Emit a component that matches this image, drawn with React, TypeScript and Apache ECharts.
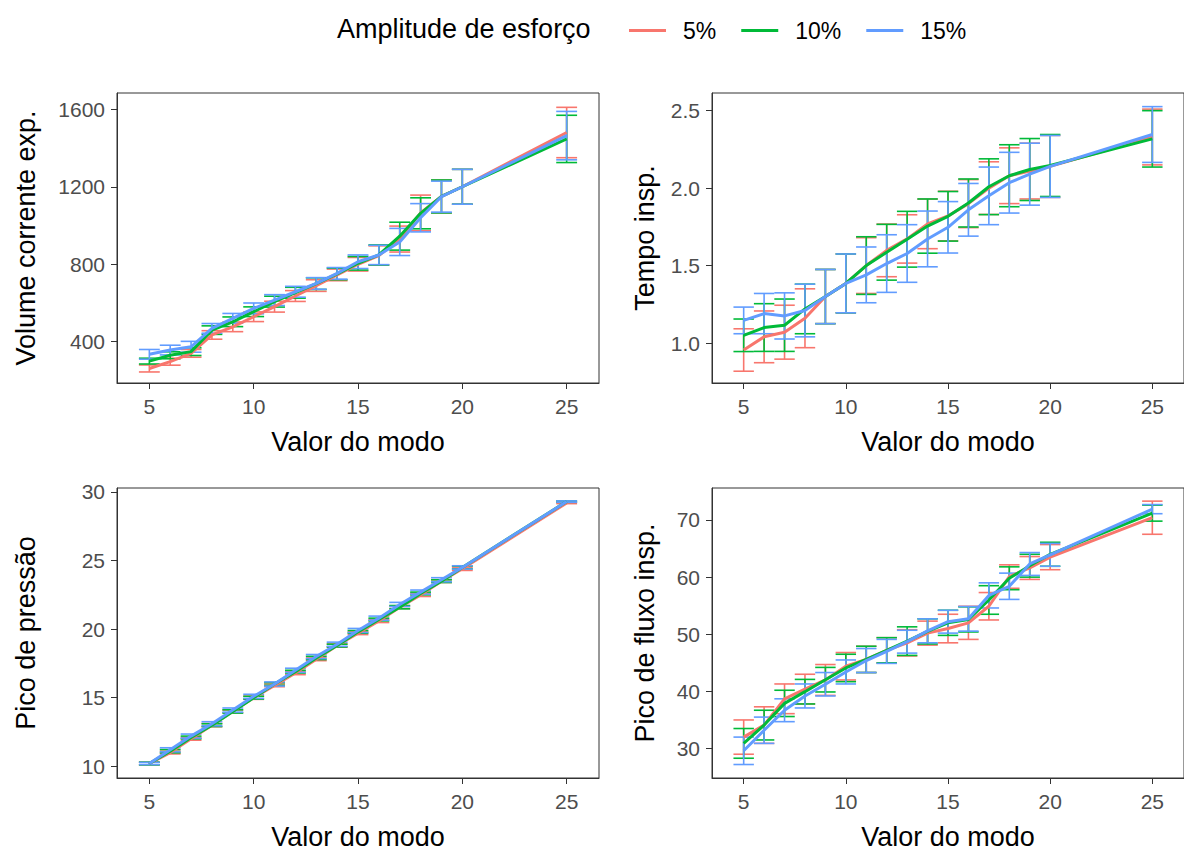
import React, { useEffect, useRef } from "react";
import * as echarts from "echarts";

const modes = [5, 6, 7, 8, 9, 10, 11, 12, 13, 14, 15, 16, 17, 18, 19, 20, 25];
const groups = ["5%", "10%", "15%"];
const colors = ["#F8766D", "#00BA38", "#619CFF"];
const xTicks = [5, 10, 15, 20, 25];

// Volume corrente exp.
const volMean5 = [262, 297, 340, 435, 477, 529, 581, 636, 690, 745, 800, 845, 930, 1065, 1150, 1200, 1480];
const volMean10 = [300, 330, 349, 460, 503, 555, 607, 653, 700, 750, 805, 848, 945, 1063, 1150, 1200, 1447];
const volMean15 = [335, 357, 374, 469, 521, 572, 615, 658, 701, 753, 813, 848, 915, 1040, 1149, 1200, 1464];
const volErr5 = [18, 18, 20, 22, 25, 25, 28, 28, 30, 30, 35, 50, 67, 92, 85, 90, 130];
const volErr10 = [15, 18, 20, 22, 25, 25, 28, 28, 30, 30, 35, 52, 72, 80, 85, 90, 122];
const volErr15 = [25, 25, 28, 25, 25, 28, 28, 28, 30, 30, 35, 50, 70, 73, 80, 90, 125];
const volTicks = [400, 800, 1200, 1600];

// Tempo insp.
const tempoMean5 = [0.955, 1.04, 1.07, 1.16, 1.3, 1.385, 1.5, 1.598, 1.672, 1.769, 1.82, 1.9, 2.0, 2.08, 2.11, 2.14, 2.33];
const tempoMean10 = [1.05, 1.1, 1.115, 1.22, 1.3, 1.385, 1.5, 1.586, 1.67, 1.755, 1.818, 1.904, 2.009, 2.08, 2.12, 2.146, 2.318];
const tempoMean15 = [1.146, 1.19, 1.175, 1.21, 1.3, 1.385, 1.44, 1.513, 1.578, 1.672, 1.747, 1.86, 1.95, 2.035, 2.09, 2.14, 2.346];
const tempoErr5 = [0.137, 0.167, 0.174, 0.19, 0.175, 0.19, 0.18, 0.17, 0.156, 0.16, 0.16, 0.155, 0.17, 0.18, 0.18, 0.2, 0.18];
const tempoErr10 = [0.105, 0.154, 0.169, 0.16, 0.175, 0.19, 0.186, 0.18, 0.18, 0.175, 0.16, 0.155, 0.18, 0.2, 0.2, 0.2, 0.182];
const tempoErr15 = [0.086, 0.13, 0.149, 0.17, 0.175, 0.19, 0.18, 0.186, 0.186, 0.18, 0.166, 0.17, 0.186, 0.196, 0.2, 0.2, 0.18];
const tempoTicks = [1.0, 1.5, 2.0, 2.5];

// Pico de pressão
const presMean5 = [10.2, 11.0, 12.0, 13.0, 14.0, 15.0, 15.9, 16.8, 17.8, 18.8, 19.7, 20.6, 21.6, 22.5, 23.5, 24.4, 29.2];
const presMean10 = [10.2, 11.1, 12.1, 13.0, 14.0, 15.0, 16.0, 16.9, 17.9, 18.8, 19.8, 20.7, 21.6, 22.6, 23.5, 24.5, 29.3];
const presMean15 = [10.2, 11.2, 12.2, 13.1, 14.1, 15.1, 16.0, 17.0, 18.0, 18.9, 19.9, 20.8, 21.8, 22.7, 23.6, 24.5, 29.3];
const presErr5 = [0.1, 0.1, 0.1, 0.12, 0.1, 0.12, 0.1, 0.12, 0.1, 0.12, 0.1, 0.12, 0.1, 0.12, 0.1, 0.12, 0.05];
const presErr10 = [0.1, 0.12, 0.1, 0.1, 0.12, 0.1, 0.1, 0.1, 0.12, 0.1, 0.1, 0.1, 0.12, 0.1, 0.1, 0.1, 0.05];
const presErr15 = [0.08, 0.15, 0.15, 0.15, 0.15, 0.15, 0.15, 0.15, 0.15, 0.15, 0.15, 0.15, 0.15, 0.15, 0.15, 0.12, 0.05];
const presTicks = [10, 15, 20, 25, 30];

// Pico de fluxo insp.
const fluxMean5 = [32.0, 34.1, 38.7, 40.4, 42.0, 44.4, 45.6, 47.2, 48.5, 50.2, 51.0, 52.0, 54.9, 60.1, 61.6, 63.5, 70.4];
const fluxMean10 = [30.9, 34.1, 37.9, 39.95, 42.05, 44.1, 45.6, 47.2, 48.8, 50.5, 52.0, 52.6, 56.0, 59.8, 62.0, 64.0, 71.2];
const fluxMean15 = [29.6, 33.2, 36.7, 39.2, 41.25, 43.4, 45.4, 47.0, 48.7, 50.6, 52.2, 52.7, 56.8, 58.4, 62.3, 63.9, 71.9];
const fluxErr5 = [3.0, 3.2, 2.6, 2.6, 2.7, 2.4, 2.3, 2.2, 2.3, 2.1, 2.5, 2.9, 2.4, 2.05, 2.0, 2.2, 2.9];
const fluxErr10 = [2.6, 2.6, 2.3, 2.15, 2.15, 2.4, 2.3, 2.2, 2.5, 2.2, 2.2, 2.2, 2.5, 2.0, 2.0, 2.1, 1.4];
const fluxErr15 = [2.4, 2.3, 2.0, 2.1, 2.05, 2.1, 2.1, 2.1, 2.0, 2.1, 2.0, 2.15, 2.2, 2.3, 2.0, 2.0, 0.8];
const fluxTicks = [30, 40, 50, 60, 70];

const FONT = "'Liberation Sans', Arial, sans-serif";

const panels = [
  { yName: "Volume corrente exp.", means: [volMean5, volMean10, volMean15], errs: [volErr5, volErr10, volErr15], min: 187, max: 1684, ticks: volTicks, dec: 0, left: 117, top: 93, gap: 78 },
  { yName: "Tempo insp.", means: [tempoMean5, tempoMean10, tempoMean15], errs: [tempoErr5, tempoErr10, tempoErr15], min: 0.742, max: 2.614, ticks: tempoTicks, dec: 1, left: 712, top: 93, gap: 54 },
  { yName: "Pico de pressão", means: [presMean5, presMean10, presMean15], errs: [presErr5, presErr10, presErr15], min: 9.145, max: 30.29, ticks: presTicks, dec: 0, left: 117, top: 488, gap: 78 },
  { yName: "Pico de fluxo insp.", means: [fluxMean5, fluxMean10, fluxMean15], errs: [fluxErr5, fluxErr10, fluxErr15], min: 24.84, max: 75.6, ticks: fluxTicks, dec: 0, left: 712, top: 488, gap: 54 },
];

export default function App() {
  const ref = useRef<HTMLDivElement>(null);
  useEffect(() => {
    if (!ref.current) return;
    const chart = echarts.init(ref.current, null, { renderer: "svg" });
    const grids: any[] = [];
    const xAxes: any[] = [];
    const yAxes: any[] = [];
    const series: any[] = [];
    panels.forEach((p, pi) => {
      grids.push({ left: p.left, top: p.top, width: 482, height: 290, show: true, borderColor: "#333", borderWidth: 1, backgroundColor: "#fff" });
      xAxes.push({
        type: "value", gridIndex: pi, min: 3.45, max: 26.55,
        axisLine: { show: true, lineStyle: { color: "#333", width: 1 } },
        axisTick: { show: true, length: 6, customValues: xTicks, lineStyle: { color: "#333", width: 1 } },
        axisLabel: { customValues: xTicks, fontSize: 21, color: "#4D4D4D", margin: 13, fontFamily: FONT },
        splitLine: { show: false },
        name: "Valor do modo", nameLocation: "middle", nameGap: 45,
        nameTextStyle: { fontSize: 27, color: "#000", fontFamily: FONT },
      });
      yAxes.push({
        type: "value", gridIndex: pi, min: p.min, max: p.max,
        axisLine: { show: true, lineStyle: { color: "#333", width: 1 } },
        axisTick: { show: true, length: 6, customValues: p.ticks, lineStyle: { color: "#333", width: 1 } },
        axisLabel: { customValues: p.ticks, fontSize: 21, color: "#4D4D4D", margin: 12, fontFamily: FONT, formatter: (v: number) => v.toFixed(p.dec) },
        splitLine: { show: false },
        name: p.yName, nameLocation: "middle", nameGap: p.gap,
        nameTextStyle: { fontSize: 27, color: "#000", fontFamily: FONT },
      });
      groups.forEach((g, gi) => {
        const color = colors[gi];
        series.push({
          type: "custom", name: g + " erro", xAxisIndex: pi, yAxisIndex: pi, z: 2,
          encode: { x: 0, y: [1, 2] },
          data: modes.map((m, i) => [m, p.means[gi][i] - p.errs[gi][i], p.means[gi][i] + p.errs[gi][i]]),
          renderItem: (params: any, api: any) => {
            const x = api.value(0);
            const lo = api.coord([x, api.value(1)]);
            const hi = api.coord([x, api.value(2)]);
            const w = api.size([0.5, 0])[0];
            const style = { stroke: color, lineWidth: 1.6, fill: null };
            return {
              type: "group",
              children: [
                { type: "line", shape: { x1: lo[0], y1: lo[1], x2: hi[0], y2: hi[1] }, style },
                { type: "line", shape: { x1: hi[0] - w, y1: hi[1], x2: hi[0] + w, y2: hi[1] }, style },
                { type: "line", shape: { x1: lo[0] - w, y1: lo[1], x2: lo[0] + w, y2: lo[1] }, style },
              ],
            };
          },
        });
      });
      groups.forEach((g, gi) => {
        series.push({
          type: "line", name: g, xAxisIndex: pi, yAxisIndex: pi, z: 3,
          data: modes.map((m, i) => [m, p.means[gi][i]]),
          symbol: "none", showSymbol: false,
          lineStyle: { color: colors[gi], width: 3 },
          itemStyle: { color: colors[gi] },
        });
      });
    });
    chart.setOption({
      animation: false,
      backgroundColor: "#fff",
      textStyle: { fontFamily: FONT },
      grid: grids,
      xAxis: xAxes,
      yAxis: yAxes,
      legend: {
        data: groups, left: 629, top: 19, padding: 0, itemGap: 25,
        icon: "rect", itemWidth: 37, itemHeight: 3,
        textStyle: { fontSize: 23, color: "#000", fontFamily: FONT, padding: [0, 0, 0, 12] },
      },
      graphic: [
        { type: "text", left: 337, top: 15, style: { text: "Amplitude de esforço", fontSize: 27, fontFamily: FONT, fill: "#000" } },
      ],
      series,
    });
    return () => chart.dispose();
  }, []);
  return <div ref={ref} style={{ position: "fixed", left: 0, top: 0, width: 1184, height: 852 }} />;
}
